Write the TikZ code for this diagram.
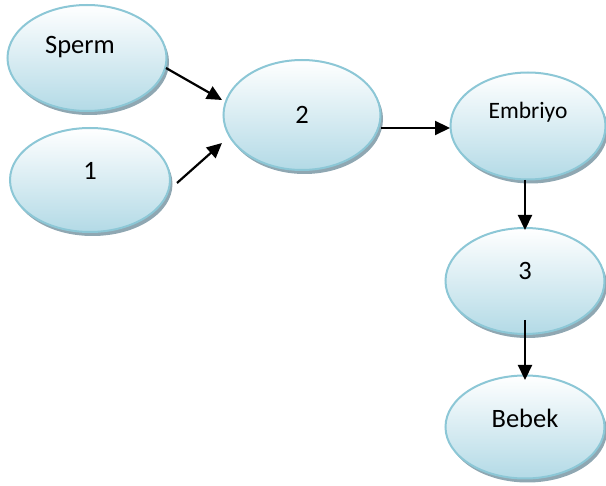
\documentclass[tikz,border=0pt]{standalone}
\usepackage{fontspec}
\setmainfont{Carlito}
\usetikzlibrary{shapes.geometric,shadows,arrows.meta,calc}
\definecolor{bord}{HTML}{8CC7D6}
\definecolor{fillb}{HTML}{B3DAE6}
\definecolor{shad}{HTML}{8FA7B2}
\tikzset{
  blob/.style={ellipse, draw=bord, line width=2pt, top color=white, bottom color=fillb,
    inner sep=0pt, drop shadow={shadow xshift=2.5pt, shadow yshift=-4pt, fill=shad, opacity=1}},
  lbl/.style={font=\fontsize{26.5}{31}\selectfont, text=black},
  conn/.style={line width=2.2pt, -{Triangle[length=15pt,width=14pt]}}
}
\begin{document}
\begin{tikzpicture}[x=1pt,y=-1pt]
\useasboundingbox (0,0) rectangle (606,486);
\node[blob, minimum width=159pt, minimum height=106pt, label={[lbl,yshift=11pt,xshift=-7pt]center:Sperm}] (sperm) at (87,58) {};
\node[blob, minimum width=160pt, minimum height=104pt, label={[lbl,yshift=9pt]center:1}] (n1) at (90,180) {};
\node[blob, minimum width=157pt, minimum height=110pt, label={[lbl]center:2}] (n2) at (302,115) {};
\node[blob, minimum width=155pt, minimum height=107pt, label={[lbl,font=\fontsize{23.5}{28}\selectfont,yshift=14pt]center:Embriyo}] (emb) at (528,126) {};
\node[blob, minimum width=159pt, minimum height=106pt, label={[lbl,yshift=10pt]center:3}] (n3) at (525,281) {};
\node[blob, minimum width=159pt, minimum height=103pt, label={[lbl,yshift=9pt]center:Bebek}] (bebek) at (525,427) {};
\draw[conn] ($(sperm.center)+(79,10)$) -- ($(n2.center)+(-80,-15)$);
\draw[conn] ($(n1.center)+(87,3)$) -- ($(n2.center)+(-80,28)$);
\draw[conn] ($(n2.center)+(79,13)$) -- ($(emb.center)+(-78,2)$);
\draw[conn] ($(emb.center)+(-3,54)$) -- ($(n3.center)+(0,-51)$);
\draw[conn] ($(n3.center)+(0,39)$) -- ($(bebek.center)+(0,-47)$);
\end{tikzpicture}
\end{document}
